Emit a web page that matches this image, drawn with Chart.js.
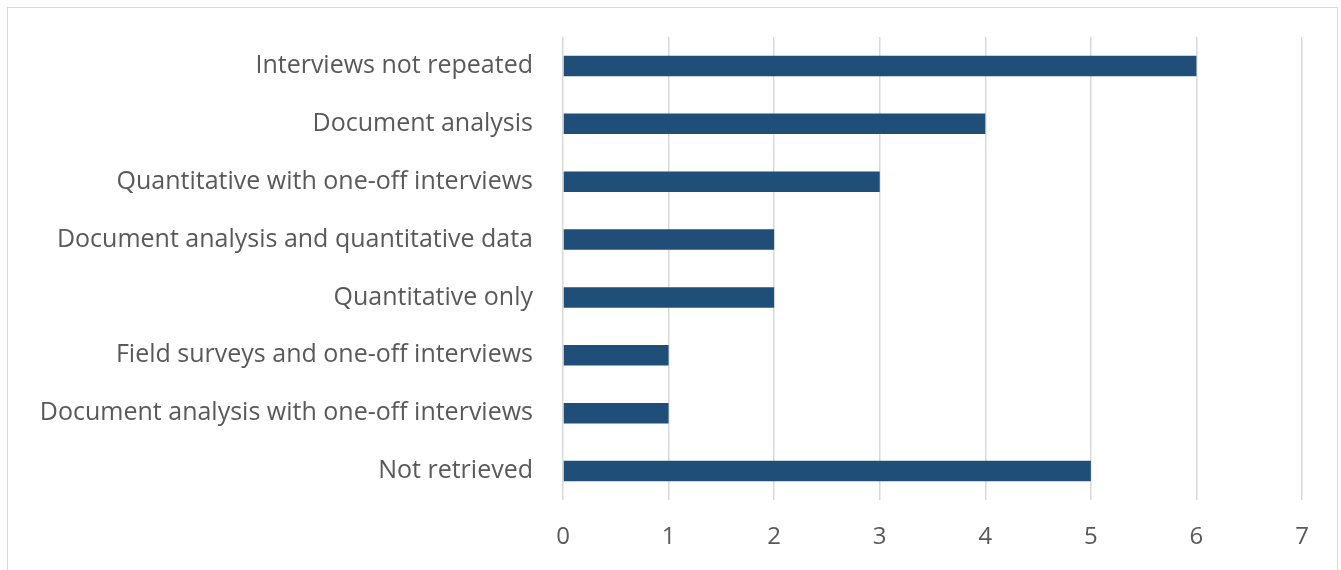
<!DOCTYPE html>
<html>
<head>
<meta charset="utf-8">
<script src="https://cdn.jsdelivr.net/npm/chart.js@4"></script>
<style>
  html, body { margin: 0; padding: 0; background: #fff; overflow: hidden; }
  #wrap { position: relative; width: 1341px; height: 570px; }
  #frame { position: absolute; left: 7px; top: 7px; width: 1331px; height: 580px; border: 1px solid #d9d9d9; box-sizing: border-box; }
  canvas { position: absolute; left: 0; top: 0; }
</style>
</head>
<body>
<div id="wrap">
  <div id="frame"></div>
  <canvas id="chart" width="1341" height="570"></canvas>
</div>
<script>
// 数据
const categories = [
    'Interviews not repeated',
    'Document analysis',
    'Quantitative with one-off interviews',
    'Document analysis and quantitative data',
    'Quantitative only',
    'Field surveys and one-off interviews',
    'Document analysis with one-off interviews',
    'Not retrieved'
];
const counts = [6, 4, 3, 2, 2, 1, 1, 5];
const xTicks = [0, 1, 2, 3, 4, 5, 6, 7];

const fontFamily = '"Open Sans", Lato, sans-serif';
const textColor = '#595959';

const ctx = document.getElementById('chart').getContext('2d');
new Chart(ctx, {
    type: 'bar',
    data: {
        labels: categories,
        datasets: [{
            data: counts,
            backgroundColor: '#1f4e79',
            borderColor: '#1f4e79',
            borderWidth: 0,
            categoryPercentage: 1,
            barPercentage: 0.355
        }]
    },
    options: {
        indexAxis: 'y',
        responsive: false,
        animation: false,
        layout: { padding: { top: 37, right: 39, left: 0, bottom: 0 } },
        plugins: { legend: { display: false }, tooltip: { enabled: false } },
        scales: {
            x: {
                min: xTicks[0],
                max: xTicks[xTicks.length - 1],
                afterBuildTicks(scale) {
                    scale.ticks = xTicks.map(v => ({ value: v }));
                },
                afterFit(scale) {
                    scale.height = 70;
                    scale.paddingLeft = 0;
                    scale.paddingRight = 0;
                },
                grid: { color: '#d9d9d9', lineWidth: 1.5, drawTicks: false },
                border: { display: false },
                ticks: {
                    padding: 23,
                    color: textColor,
                    font: { family: fontFamily, size: 24 }
                }
            },
            y: {
                afterFit(scale) {
                    scale.width = 563;
                    scale.paddingTop = 0;
                    scale.paddingBottom = 0;
                },
                grid: { display: false, drawTicks: false },
                border: { display: false },
                ticks: {
                    padding: 30,
                    color: textColor,
                    font: { family: fontFamily, size: 25 }
                }
            }
        }
    }
});
</script>
</body>
</html>
